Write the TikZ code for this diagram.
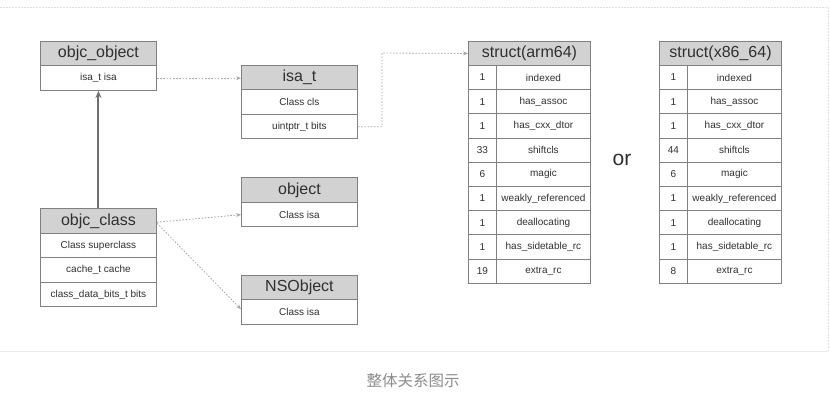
\documentclass[tikz,border=0pt]{standalone}
\usepackage{fontspec}
\setmainfont{Liberation Sans}
\newfontfamily\cjk{Noto Sans CJK SC}
\usetikzlibrary{arrows.meta}
\definecolor{bordc}{HTML}{808080}
\definecolor{headc}{HTML}{D2D2D2}
\definecolor{linec}{HTML}{A8A8A8}
\definecolor{textc}{HTML}{303030}
\definecolor{framec}{HTML}{E2E2E2}
\definecolor{inhc}{HTML}{707070}
\begin{document}
\begin{tikzpicture}[x=1pt,y=-1pt,
  cell/.style={draw=bordc, line width=0.9pt, anchor=north west, inner sep=0pt, text=textc},
  hdr/.style={cell, fill=headc, minimum width=116pt, minimum height=24.5pt, font=\fontsize{16}{16}\selectfont},
  fld/.style={cell, fill=white, minimum width=116pt, minimum height=24.5pt, font=\fontsize{10}{10}\selectfont},
  shdr/.style={cell, fill=headc, minimum width=122pt, minimum height=24pt, font=\fontsize{16}{16}\selectfont},
  numc/.style={cell, fill=white, minimum width=28pt, minimum height=24.2pt, font=\fontsize{10}{10}\selectfont},
  namec/.style={cell, fill=white, minimum width=94pt, minimum height=24.2pt, font=\fontsize{10}{10}\selectfont},
  conn/.style={draw=linec, line width=0.8pt, dash pattern=on 1.6pt off 1.6pt, -{Stealth[length=5pt,width=4pt]}},
  inherit/.style={draw=inhc, line width=2pt, -{Stealth[length=7pt,width=6pt]}}
]
\useasboundingbox (0,0) rectangle (830,403);
\fill[white] (0,0) rectangle (830,403);
% frame
\draw[framec, line width=0.8pt, dash pattern=on 2pt off 1pt] (0,7) -- (828,7) -- (828,351);
\draw[framec!70, line width=0.8pt] (0,351) -- (828,351);

% objc_object
\node[hdr] (oo-h) at (40,41) {objc\_object};
\node[fld] (oo-r1) at (40,65.5) {isa\_t isa};

% isa_t
\node[hdr] (it-h) at (241,65) {isa\_t};
\node[fld] (it-r1) at (241,89.5) {Class cls};
\node[fld] (it-r2) at (241,114) {uintptr\_t bits};

% object
\node[hdr] (ob-h) at (241,177.5) {object};
\node[fld] (ob-r1) at (241,202) {Class isa};

% NSObject
\node[hdr] (ns-h) at (241,275) {NSObject};
\node[fld] (ns-r1) at (241,299.5) {Class isa};

% objc_class
\node[hdr] (oc-h) at (40,208.5) {objc\_class};
\node[fld] (oc-r1) at (40,233) {Class superclass};
\node[fld] (oc-r2) at (40,257.5) {cache\_t cache};
\node[fld] (oc-r3) at (40,282) {class\_data\_bits\_t bits};

% struct(arm64)
\node[shdr] (arm-h) at (468,41) {struct(arm64)};
\foreach \n/\name [count=\i] in {1/indexed,1/has\_assoc,1/has\_cxx\_dtor,33/shiftcls,6/magic,1/weakly\_referenced,1/deallocating,1/has\_sidetable\_rc,19/extra\_rc}{
  \node[numc] (arm-n\i) at (468,{65+(\i-1)*24.2}) {\n};
  \node[namec] (arm-f\i) at (496,{65+(\i-1)*24.2}) {\name};
}

% struct(x86_64)
\node[shdr] (x86-h) at (659,41) {struct(x86\_64)};
\foreach \n/\name [count=\i] in {1/indexed,1/has\_assoc,1/has\_cxx\_dtor,44/shiftcls,6/magic,1/weakly\_referenced,1/deallocating,1/has\_sidetable\_rc,8/extra\_rc}{
  \node[numc] (x86-n\i) at (659,{65+(\i-1)*24.2}) {\n};
  \node[namec] (x86-f\i) at (687,{65+(\i-1)*24.2}) {\name};
}

\node[text=textc, font=\fontsize{21}{21}\selectfont] (or) at (622,160) {or};

\node[text=gray!90!white, font=\cjk\fontsize{15.5}{16}\selectfont] (cap) at (413,381) {整体关系图示};

% connectors
\coordinate (jog) at (382,53);
\draw[conn] (oo-r1.east) -- (oo-r1.east -| it-h.west);
\draw[conn] (it-r2.east) -| (jog) -- (arm-h.west);
\draw[conn] ([yshift=-1pt]oc-h.east) -- (ob-r1.west);
\draw[conn] ([yshift=-2pt]oc-h.east) -- ([yshift=3pt]ns-r1.west);
\draw[inherit] (oc-h.north) -- (oo-r1.south);
\end{tikzpicture}
\end{document}
